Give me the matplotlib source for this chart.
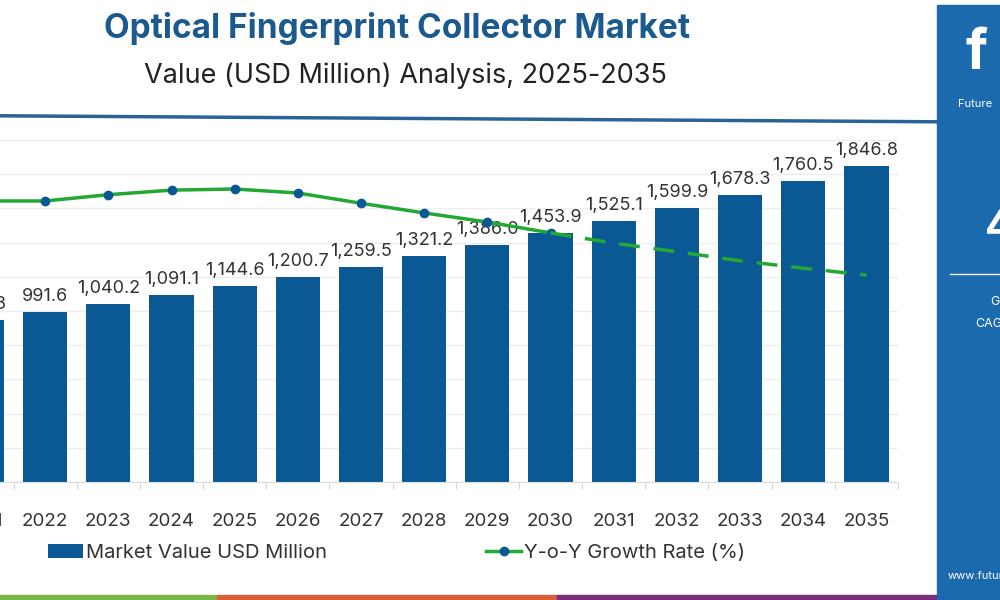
import matplotlib.pyplot as plt
from matplotlib.lines import Line2D
from matplotlib.patches import Patch, Rectangle
import numpy as np

plt.rcParams['font.family'] = ['Inter', 'DejaVu Sans']

# Data
years = [2021, 2022, 2023, 2024, 2025, 2026, 2027, 2028,
         2029, 2030, 2031, 2032, 2033, 2034, 2035]
market_value = [945.8, 991.6, 1040.2, 1091.1, 1144.6, 1200.7, 1259.5, 1321.2,
                1386.0, 1453.9, 1525.1, 1599.9, 1678.3, 1760.5, 1846.8]
yoy_growth = [4.93, 4.93, 5.04, 5.12, 5.14, 5.07, 4.89, 4.72,
              4.56, 4.37, 4.19, 4.04, 3.88, 3.75, 3.63]
solid_until = 2030  # growth line is dashed after this year

bar_color = '#0a5994'
line_color = '#22a833'
text_color = '#333333'

fig = plt.figure(figsize=(10, 6), dpi=100)

# axes deliberately starts left of the canvas, the reference is cropped there
ax = fig.add_axes([-0.0496, 0.1967, 0.9476, 0.57])
x = np.arange(len(years))
ax.bar(x, market_value, width=0.7, color=bar_color, zorder=2)
ax.set_xlim(-0.5, len(years) - 0.5)
ax.set_ylim(0, 2000)
ax.set_yticks(np.arange(0, 2001, 200))
ax.yaxis.grid(True, color='#eeeeee', linewidth=1, zorder=0)
ax.tick_params(axis='y', left=False, labelleft=False)
ax.set_xticks(x)
ax.set_xticklabels([str(y) for y in years], fontsize=13.5, color=text_color)
ax.set_xticks(np.arange(-0.5, len(years)), minor=True)
ax.tick_params(axis='x', which='major', length=0, pad=22)
ax.tick_params(axis='x', which='minor', length=5, color='#cccccc', direction='out')
for s in ['top', 'right', 'left']:
    ax.spines[s].set_visible(False)
ax.spines['bottom'].set_color('#dddddd')

for xi, v in zip(x, market_value):
    ax.annotate(f'{v:,.1f}', (xi, v), xytext=(0, 5), textcoords='offset points',
                ha='center', va='bottom', fontsize=13, color=text_color, zorder=5)

# growth rate on a hidden secondary axis
ax2 = ax.twinx()
ax2.set_ylim(0, 6)
ax2.axis('off')
k = years.index(solid_until)
ax2.plot(x[:k + 1], yoy_growth[:k + 1], color=line_color, linewidth=2.5,
         marker='o', markersize=6, markerfacecolor=bar_color,
         markeredgecolor=bar_color, zorder=4)
ax2.plot(x[k:], yoy_growth[k:], color=line_color, linewidth=2.5,
         linestyle=(0, (6, 4)), zorder=4)

# titles
fig.text(0.397, 0.952, 'Optical Fingerprint Collector Market', ha='center', va='center',
         fontsize=24, fontweight='bold', color='#1b5a8e')
fig.text(0.405, 0.873, 'Value (USD Million) Analysis, 2025-2035', ha='center', va='center',
         fontsize=19.5, color='#222222')
fig.add_artist(Line2D([0, 0.937], [0.807, 0.797], color='#2a6496', linewidth=2.5))

# legend
handles = [Patch(facecolor=bar_color, label='Market Value USD Million'),
           Line2D([0], [0], color=line_color, linewidth=2.5, marker='o', markersize=6,
                  markerfacecolor=bar_color, markeredgecolor=bar_color,
                  label='Y-o-Y Growth Rate (%)')]
fig.legend(handles=handles, loc='center', bbox_to_anchor=(0.3965, 0.078), ncol=2,
           frameon=False, fontsize=14.5, columnspacing=7.9, handlelength=1.75,
           handletextpad=0.15, labelcolor=text_color)

# bottom colour stripe
for x0, w, c in [(0, 0.217, '#7ab648'), (0.217, 0.34, '#d9603b'), (0.557, 0.38, '#7b2d7e')]:
    fig.add_artist(Rectangle((x0, 0), w, 0.009, transform=fig.transFigure,
                             color=c, zorder=1))

# cropped side panel on the right
fig.add_artist(Rectangle((0.937, 0), 0.07, 0.992, transform=fig.transFigure,
                         color='#1c6aae', zorder=1))
fig.text(0.965, 0.91, 'f', ha='left', va='center', fontsize=40, fontweight='bold', color='white')
fig.text(0.958, 0.827, 'Future', ha='left', va='center', fontsize=8, color='white')
fig.text(0.985, 0.62, '4', ha='left', va='center', fontsize=30, fontweight='bold', color='white')
fig.add_artist(Line2D([0.950, 1.0], [0.543, 0.543], color='white', linewidth=1))
fig.text(0.99, 0.497, 'G', ha='left', va='center', fontsize=9, color='white')
fig.text(0.975, 0.46, 'CAGR', ha='left', va='center', fontsize=9, color='white')
fig.text(0.948, 0.04, 'www.future', ha='left', va='center', fontsize=8, color='white')

fig.savefig('out.png', dpi=100)
